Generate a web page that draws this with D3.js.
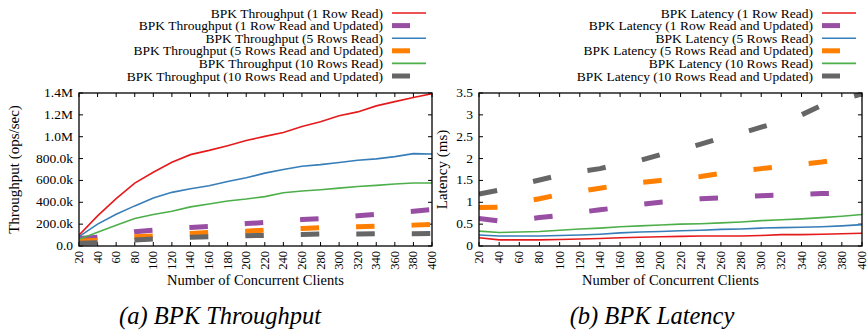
<!DOCTYPE html>
<html>
<head>
<meta charset="utf-8">
<script src="https://cdn.jsdelivr.net/npm/d3@7"></script>
<style>
  body { margin: 0; background: #fff; }
  svg { display: block; font-family: "Liberation Serif", "DejaVu Serif", serif; }
</style>
</head>
<body>
<div id="chart"></div>
<script>
const clients = [20, 40, 60, 80, 100, 120, 140, 160, 180, 200, 220, 240, 260, 280, 300, 320, 340, 360, 380, 400];

// throughput, ops/sec (thousands)
const tpRead1 = [100, 275, 433, 576, 675, 767, 836, 875, 918, 965, 1003, 1039, 1094, 1136, 1191, 1227, 1282, 1321, 1358, 1394];
const tpUpd1 = [68, 80, 105, 130, 145, 160, 170, 178, 192, 205, 215, 230, 242, 251, 263, 276, 290, 305, 318, 333];
const tpRead5 = [85, 200, 290, 367, 439, 491, 524, 552, 591, 624, 667, 700, 730, 745, 764, 785, 797, 818, 845, 842];
const tpUpd5 = [45, 50, 70, 85, 91, 105, 115, 124, 130, 136, 145, 152, 160, 167, 172, 176, 182, 186, 191, 197];
const tpRead10 = [61, 125, 190, 252, 288, 318, 358, 385, 412, 430, 452, 488, 503, 515, 530, 545, 555, 567, 576, 576];
const tpUpd10 = [25, 30, 45, 55, 64, 72, 79, 85, 90, 94, 97, 102, 106, 109, 109, 109, 112, 112, 112, 115];

// latency, ms
const latRead1 = [0.19, 0.14, 0.14, 0.14, 0.15, 0.16, 0.17, 0.19, 0.20, 0.21, 0.22, 0.23, 0.23, 0.23, 0.24, 0.26, 0.26, 0.27, 0.28, 0.29];
const latUpd1 = [0.63, 0.57, 0.60, 0.65, 0.70, 0.77, 0.83, 0.88, 0.95, 1.00, 1.04, 1.08, 1.10, 1.13, 1.15, 1.17, 1.18, 1.20, 1.21, 1.22];
const latRead5 = [0.25, 0.23, 0.23, 0.23, 0.24, 0.25, 0.27, 0.30, 0.32, 0.33, 0.35, 0.36, 0.38, 0.39, 0.41, 0.42, 0.43, 0.44, 0.46, 0.49];
const latUpd5 = [0.88, 0.89, 1.00, 1.08, 1.18, 1.25, 1.32, 1.40, 1.45, 1.50, 1.55, 1.59, 1.66, 1.72, 1.77, 1.82, 1.87, 1.92, 1.99, 2.03];
const latRead10 = [0.34, 0.31, 0.32, 0.33, 0.36, 0.39, 0.41, 0.44, 0.46, 0.48, 0.50, 0.51, 0.53, 0.55, 0.58, 0.60, 0.62, 0.65, 0.68, 0.72];
const latUpd10 = [1.19, 1.28, 1.40, 1.51, 1.62, 1.70, 1.77, 1.88, 1.96, 2.09, 2.20, 2.33, 2.47, 2.58, 2.72, 2.85, 3.00, 3.22, 3.35, 3.48];

const seriesNames = [
  "1 Row Read", "1 Row Read and Updated",
  "5 Rows Read", "5 Rows Read and Updated",
  "10 Rows Read", "10 Rows Read and Updated",
];
const colors = ["#e41a1c", "#984ea3", "#377eb8", "#ff7f00", "#4daf4a", "#666666"];
const dashed = [false, true, false, true, false, true];

const tpTicks = [0, 200, 400, 600, 800, 1000, 1200, 1400];
const tpTickLabels = ["0.0", "200.0k", "400.0k", "600.0k", "800.0k", "1.0M", "1.2M", "1.4M"];
const latTicks = [0, 0.5, 1, 1.5, 2, 2.5, 3, 3.5];
const latTickLabels = ["0", "0.5", "1", "1.5", "2", "2.5", "3", "3.5"];

const W = 867, H = 336;
const svg = d3.select("#chart").append("svg").attr("width", W).attr("height", H);

function drawPanel(o) {
  const x = d3.scaleLinear().domain([20, 400]).range([o.left, o.right]);
  const y = d3.scaleLinear().domain(o.yDomain).range([o.bottom, o.top]);
  const g = svg.append("g");

  const clipId = "clip-" + o.id;
  g.append("clipPath").attr("id", clipId).append("rect")
    .attr("x", o.left).attr("y", o.top)
    .attr("width", o.right - o.left).attr("height", o.bottom - o.top);

  // ticks, inward and mirrored
  const tickLen = 4;
  const tk = g.append("g").attr("stroke", "#000").attr("stroke-width", 1);
  clients.forEach((c) => {
    tk.append("line").attr("x1", x(c)).attr("x2", x(c)).attr("y1", o.bottom).attr("y2", o.bottom - tickLen);
    tk.append("line").attr("x1", x(c)).attr("x2", x(c)).attr("y1", o.top).attr("y2", o.top + tickLen);
  });
  o.yTicks.forEach((v) => {
    tk.append("line").attr("x1", o.left).attr("x2", o.left + tickLen).attr("y1", y(v)).attr("y2", y(v));
    tk.append("line").attr("x1", o.right).attr("x2", o.right - tickLen).attr("y1", y(v)).attr("y2", y(v));
  });

  g.selectAll("text.xt").data(clients).join("text")
    .attr("class", "xt")
    .attr("transform", (d) => `translate(${x(d) + 4},${o.bottom + 5}) rotate(-90)`)
    .attr("text-anchor", "end")
    .style("font-size", "12.5px")
    .text((d) => d);

  g.selectAll("text.yt").data(o.yTicks).join("text")
    .attr("class", "yt")
    .attr("x", o.left - 6)
    .attr("y", (d) => y(d) + 4)
    .attr("text-anchor", "end")
    .style("font-size", "13.5px")
    .text((d, i) => o.yTickLabels[i]);

  const line = d3.line().x((d, i) => x(clients[i])).y((d) => y(d));
  const lines = g.append("g").attr("clip-path", `url(#${clipId})`);
  o.series.forEach((vals, i) => {
    lines.append("path")
      .attr("d", line(vals))
      .attr("fill", "none")
      .attr("stroke", colors[i])
      .attr("stroke-width", dashed[i] ? 5 : 1.6)
      .attr("stroke-dasharray", dashed[i] ? "18.5,37" : null);
  });

  g.append("rect")
    .attr("x", o.left).attr("y", o.top)
    .attr("width", o.right - o.left).attr("height", o.bottom - o.top)
    .attr("fill", "none").attr("stroke", "#000").attr("stroke-width", 1.3);

  g.append("text")
    .attr("x", (o.left + o.right) / 2).attr("y", 285)
    .attr("text-anchor", "middle").style("font-size", "14.5px")
    .text("Number of Concurrent Clients");

  g.append("text")
    .attr("transform", `translate(${o.yLabelX},${(o.top + o.bottom) / 2}) rotate(-90)`)
    .attr("text-anchor", "middle").style("font-size", "15px")
    .text(o.yLabel);

  // legend
  const lg = g.append("g");
  seriesNames.forEach((name, i) => {
    const ly = 13 + i * 12.6;
    lg.append("text")
      .attr("x", o.legendX).attr("y", ly + 4.5)
      .attr("text-anchor", "end").style("font-size", "13.5px")
      .text(`${o.prefix} (${name})`);
    lg.append("line")
      .attr("x1", o.legendX + 9).attr("x2", o.legendX + (dashed[i] ? 27 : 43))
      .attr("y1", ly).attr("y2", ly)
      .attr("stroke", colors[i]).attr("stroke-width", dashed[i] ? 5 : 1.6);
  });

  svg.append("text")
    .attr("x", o.captionX).attr("y", 324)
    .attr("text-anchor", "middle")
    .style("font-size", "24.5px").style("font-style", "italic")
    .text(o.caption);
}

drawPanel({
  id: "tp", left: 79, right: 432, top: 93, bottom: 246,
  yDomain: [0, 1400], yTicks: tpTicks, yTickLabels: tpTickLabels,
  series: [tpRead1, tpUpd1, tpRead5, tpUpd5, tpRead10, tpUpd10],
  yLabel: "Throughput (ops/sec)", yLabelX: 19,
  prefix: "BPK Throughput", legendX: 383,
  caption: "(a) BPK Throughput", captionX: 220,
});

drawPanel({
  id: "lat", left: 479, right: 862, top: 93, bottom: 246,
  yDomain: [0, 3.5], yTicks: latTicks, yTickLabels: latTickLabels,
  series: [latRead1, latUpd1, latRead5, latUpd5, latRead10, latUpd10],
  yLabel: "Latency (ms)", yLabelX: 447,
  prefix: "BPK Latency", legendX: 813,
  caption: "(b) BPK Latency", captionX: 652,
});
</script>
</body>
</html>
